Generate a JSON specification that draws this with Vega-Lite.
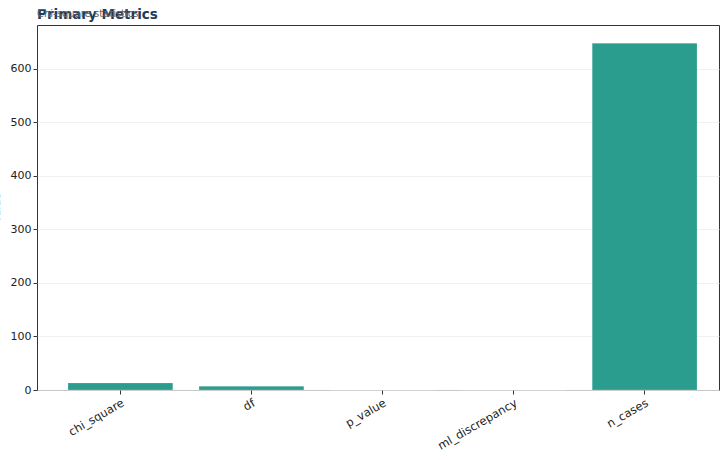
{
  "$schema": "https://vega.github.io/schema/vega-lite/v6.json",
  "width": 682,
  "height": 365,
  "autosize": "none",
  "padding": {"left": 37, "top": 25, "right": 1, "bottom": 70},
  "title": {
    "text": "Primary Metrics",
    "subtitle": "Chi-square statistics",
    "anchor": "start",
    "frame": "group",
    "offset": 4,
    "fontSize": 13.5,
    "fontWeight": "bold",
    "color": "#1f3b5c",
    "font": "DejaVu Sans",
    "subtitleFont": "DejaVu Sans",
    "subtitleFontSize": 10,
    "subtitleColor": "#666666",
    "subtitlePadding": -12
  },
  "config": {
    "view": {"stroke": "#333333", "strokeWidth": 1},
    "font": "DejaVu Sans"
  },
  "data": {
    "values": [
      {"metric": "chi_square", "value": 13.2},
      {"metric": "df", "value": 7},
      {"metric": "p_value", "value": 0.07},
      {"metric": "ml_discrepancy", "value": 0.02},
      {"metric": "n_cases", "value": 648}
    ]
  },
  "mark": {"type": "bar", "color": "#2a9d8f", "opacity": 1, "stroke": "#ffffff", "strokeWidth": 0.5, "strokeOpacity": 0.4},
  "encoding": {
    "x": {
      "field": "metric",
      "type": "nominal",
      "sort": null,
      "title": null,
      "scale": {"paddingInner": 0.2, "paddingOuter": 0.202, "align": 0.585},
      "axis": {
        "labelAngle": -30,
        "labelAlign": "right",
        "labelBaseline": "top",
        "labelFontSize": 11.5,
        "labelColor": "#222222",
        "labelPadding": 3,
        "domain": false,
        "tickColor": "#333333",
        "tickSize": 4
      }
    },
    "y": {
      "field": "value",
      "type": "quantitative",
      "title": "Value",
      "scale": {"domain": [0, 682], "nice": false},
      "axis": {
        "values": [0, 100, 200, 300, 400, 500, 600],
        "labelFontSize": 11,
        "labelColor": "#222222",
        "domain": false,
        "tickColor": "#333333",
        "tickSize": 4,
        "gridColor": "#eeeeee",
        "gridWidth": 0.8,
        "titleFontSize": 11,
        "titleFontWeight": "normal",
        "titleColor": "#222222",
        "titlePadding": 9
      }
    }
  }
}
